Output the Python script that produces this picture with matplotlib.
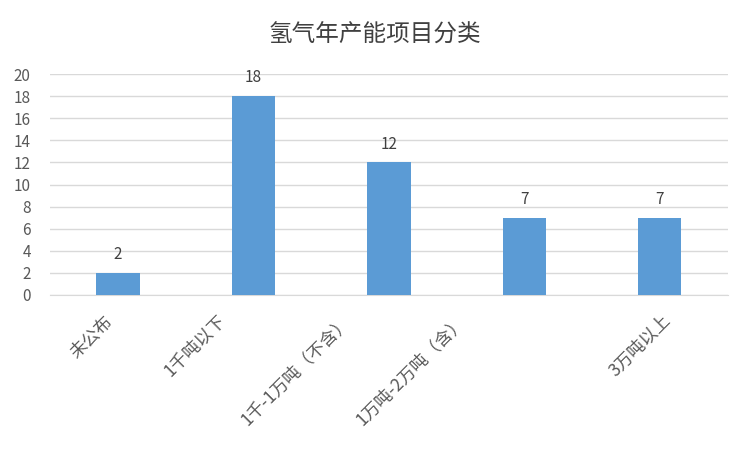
import matplotlib
matplotlib.use('Agg')
import matplotlib.pyplot as plt
import matplotlib.transforms as mtransforms

plt.rcParams['font.family'] = ['Noto Sans CJK SC', 'DejaVu Sans']

categories = ['未公布', '1千吨以下', '1千-1万吨（不含）', '1万吨-2万吨（含）', '3万吨以上']
values = [2, 18, 12, 7, 7]
yticks = list(range(0, 21, 2))

bar_color = '#5B9BD5'
text_color = '#595959'
grid_color = '#D9D9D9'

fig = plt.figure(figsize=(7.5, 4.49), dpi=100)
ax = fig.add_axes([0.067, 0.343, 0.903, 0.492])

x = list(range(len(categories)))
ax.bar(x, values, width=0.32, color=bar_color, zorder=3)

for xi, v in zip(x, values):
    ax.text(xi, v + 0.9, str(v), ha='center', va='bottom', fontsize=11, color='#404040')

ax.set_xlim(-0.5, len(categories) - 0.5)
ax.set_ylim(0, 20)
ax.set_yticks(yticks)
ax.set_xticks(x)
ax.set_xticklabels(categories, rotation=45, ha='right', rotation_mode='anchor',
                   fontsize=12.5, color=text_color)
ax.tick_params(axis='y', length=0, labelsize=11, labelcolor=text_color, pad=14)
ax.tick_params(axis='x', length=0, pad=12)

# Excel places the rotated labels a little left of the ticks, by varying amounts
label_shift_px = [-15, -37, -48, -68, 2]
for lbl, dx in zip(ax.get_xticklabels(), label_shift_px):
    off = mtransforms.ScaledTranslation(dx / 100, 0, fig.dpi_scale_trans)
    lbl.set_transform(lbl.get_transform() + off)

ax.yaxis.grid(True, color=grid_color, linewidth=1, zorder=0)
for side in ['top', 'right', 'left']:
    ax.spines[side].set_visible(False)
ax.spines['bottom'].set_color(grid_color)

fig.text(0.5, 0.922, '氢气年产能项目分类', ha='center', va='center', fontsize=17, color='#404040')

fig.savefig('out.png', dpi=100)
